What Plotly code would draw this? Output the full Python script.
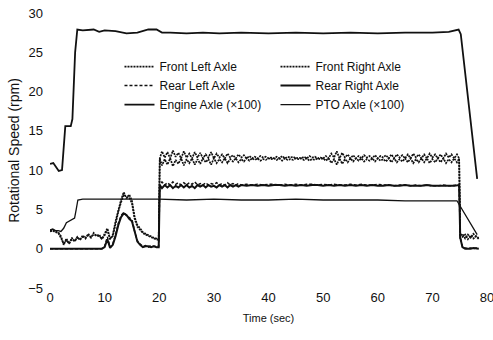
import plotly.graph_objects as go

# ---------------- data ----------------
# Engine axle (x100)
T_ENGINE = [0, 0.6, 1.2, 1.6, 2.2, 2.5, 2.8, 3.8, 4.1, 4.6, 5.0, 6, 8, 9, 10, 12, 14, 16, 18,
            19.5, 20.5, 22, 25, 28, 31, 35, 40, 45, 50, 55, 60, 65, 70, 73, 74.3, 74.8, 75.2, 78.2]
V_ENGINE = [10.8, 10.9, 10.3, 9.9, 10.0, 13.5, 15.6, 15.6, 16.5, 25.0, 27.9, 27.8, 27.9, 27.6, 27.8,
            27.7, 27.4, 27.5, 27.9, 27.9, 27.5, 27.5, 27.4, 27.5, 27.4, 27.5, 27.4, 27.5, 27.4, 27.5,
            27.4, 27.5, 27.5, 27.6, 27.8, 27.9, 27.3, 8.9]

# PTO axle (x100)
T_PTO = [0, 0.5, 1, 1.5, 2, 2.5, 3, 3.5, 4, 4.5, 4.8, 5.1, 6, 10, 15, 19.9, 25, 30, 35, 40, 45, 50,
         55, 60, 65, 70, 74.5, 78.2]
V_PTO = [2.4, 2.5, 2.3, 2.3, 2.2, 2.6, 3.3, 3.5, 3.7, 3.9, 5.0, 6.2, 6.3, 6.3, 6.3, 6.3, 6.2, 6.3,
         6.2, 6.2, 6.3, 6.2, 6.2, 6.2, 6.1, 6.1, 6.1, 1.8]

# front axles sampling times
T_FRONT = ([i / 2 for i in range(0, 40)] + [19.9, 20.1] + [20.5 + i / 2 for i in range(109)]
           + [74.9, 75.1] + [75.5 + i / 2 for i in range(7)])

V_FRONT_LEFT = (
    [2.3, 2.4, 2.2, 2.1, 1.6, 0.5, 1.3, 0.6, 1.4, 0.9, 1.5, 1.1, 1.7, 1.3, 1.9, 1.4, 2.0, 1.6, 1.8, 1.2,
     1.9, 2.6, 1.2, 1.8, 3.5, 5.0, 6.2, 7.2, 6.4, 6.9, 6.1, 4.0, 3.0, 2.6, 2.1, 1.9, 1.7, 1.6, 1.4, 1.3]
    + [1.2, 11.5]
    + [12.4, 11.6, 12.3, 11.5, 12.5, 11.7, 12.2, 11.5, 12.4, 11.6, 12.1, 11.5, 12.3, 11.6, 12.2, 11.5,
       12.0, 11.6, 12.3, 11.5]
    + [12.1, 11.6, 12.0, 11.5, 12.1, 11.6, 11.9, 11.5, 12.0, 11.6, 11.9, 11.5]
    + [11.8, 11.5, 11.7, 11.5, 11.8, 11.6, 11.7, 11.5, 11.6, 11.5, 11.7, 11.5, 11.8, 11.5, 11.7, 11.6,
       11.7, 11.5, 11.6, 11.5, 11.7, 11.5, 11.8, 11.6, 11.7, 11.5, 11.6, 11.5]
    + [11.8, 11.5, 12.1, 11.6, 12.4, 11.5, 12.2, 11.6, 12.0, 11.5, 11.9, 11.5]
    + [11.8, 11.5, 11.9, 11.6, 11.8, 11.5, 11.9, 11.5, 11.8, 11.6, 11.9, 11.5]
    + [12.0, 11.5, 12.0, 11.6, 11.9, 11.5, 12.0, 11.5, 12.1, 11.6, 12.0, 11.5, 12.0, 11.5, 12.1, 11.6,
       12.0, 11.5, 12.0, 11.5, 12.1, 11.6, 12.0, 11.5, 12.0]
    + [11.5, 1.6]
    + [1.9, 1.3, 1.8, 1.4, 1.9, 1.5, 1.4]
)

V_FRONT_RIGHT = (
    [2.2, 2.3, 2.1, 2.0, 1.4, 0.6, 1.1, 0.7, 1.2, 1.0, 1.4, 1.2, 1.5, 1.4, 1.7, 1.5, 1.8, 1.7, 1.6, 1.3,
     1.7, 2.4, 1.3, 1.6, 3.2, 4.7, 5.9, 6.9, 6.6, 6.5, 5.8, 3.8, 2.8, 2.4, 2.0, 1.8, 1.6, 1.5, 1.3, 1.2]
    + [1.1, 11.5]
    + [10.6, 11.4, 10.7, 11.5, 10.5, 11.3, 10.8, 11.5, 10.6, 11.4, 10.9, 11.5, 10.7, 11.4, 10.8, 11.5,
       11.0, 11.4, 10.7, 11.5]
    + [10.9, 11.4, 11.0, 11.5, 10.9, 11.4, 11.1, 11.5, 11.0, 11.4, 11.1, 11.5]
    + [11.2, 11.5, 11.3, 11.5, 11.2, 11.4, 11.3, 11.5, 11.4, 11.5, 11.3, 11.5, 11.2, 11.5, 11.3, 11.4,
       11.3, 11.5, 11.4, 11.5, 11.3, 11.5, 11.2, 11.4, 11.3, 11.5, 11.4, 11.5]
    + [11.2, 11.5, 10.9, 11.4, 10.7, 11.5, 10.8, 11.4, 11.0, 11.5, 11.1, 11.5]
    + [11.2, 11.5, 11.1, 11.4, 11.2, 11.5, 11.1, 11.5, 11.2, 11.4, 11.1, 11.5]
    + [11.0, 11.5, 11.0, 11.4, 11.1, 11.5, 11.0, 11.5, 10.9, 11.4, 11.0, 11.5, 11.0, 11.5, 10.9, 11.4,
       11.0, 11.5, 11.0, 11.5, 10.9, 11.4, 11.0, 11.5, 11.0]
    + [11.5, 1.4]
    + [1.5, 1.8, 1.2, 1.7, 1.3, 1.6, 1.2]
)

# rear axles sampling times
T_REAR = ([i / 2 for i in range(0, 40)] + [19.9, 20.1] + [20.5 + i / 2 for i in range(30)]
          + [36 + i for i in range(39)] + [74.9, 75.1] + [75.5 + i / 2 for i in range(7)])

V_REAR_LEFT = (
    [0.0] * 20
    + [0.3, 1.5, 0.2, 0.6, 1.8, 3.2, 4.2, 4.6, 4.2, 4.0, 3.7, 2.2, 1.0, 0.6, 0.3, 0.4, 0.2, 0.4, 0.3, 0.3]
    + [0.3, 8.1]
    + [8.5, 8.1, 8.4, 8.1, 8.5, 8.2, 8.4, 8.1, 8.4, 8.1, 8.4, 8.2, 8.5, 8.1, 8.3, 8.1, 8.4, 8.1, 8.3, 8.2,
       8.4, 8.1, 8.3, 8.1, 8.4, 8.1, 8.3, 8.1, 8.3, 8.1]
    + [8.2, 8.1, 8.2, 8.1, 8.2, 8.2, 8.1, 8.2, 8.1, 8.2, 8.1, 8.2, 8.2, 8.1, 8.2, 8.1, 8.2, 8.1, 8.1, 8.2,
       8.1, 8.2, 8.1, 8.1, 8.2, 8.1, 8.1, 8.0, 8.1, 8.1, 8.0, 8.1, 8.0, 8.1, 8.0, 8.0, 8.1, 8.0, 8.1]
    + [8.1, 1.5]
    + [0.3, 0.1, 0.0, 0.1, 0.0, 0.1, 0.0]
)

V_REAR_RIGHT = (
    [0.0] * 20
    + [0.2, 1.2, 0.1, 0.5, 1.6, 3.0, 4.0, 4.5, 4.3, 3.8, 3.5, 2.0, 0.9, 0.5, 0.2, 0.3, 0.3, 0.2, 0.3, 0.2]
    + [0.2, 8.1]
    + [7.7, 8.1, 7.8, 8.1, 7.7, 8.0, 7.8, 8.1, 7.8, 8.1, 7.8, 8.0, 7.7, 8.1, 7.9, 8.1, 7.8, 8.1, 7.9, 8.0,
       7.8, 8.1, 7.9, 8.1, 7.8, 8.1, 7.9, 8.1, 7.9, 8.1]
    + [8.0, 8.1, 8.0, 8.1, 8.0, 8.1, 8.1, 8.0, 8.1, 8.0, 8.1, 8.0, 8.1, 8.1, 8.0, 8.1, 8.0, 8.1, 8.0, 8.1,
       8.0, 8.1, 8.0, 8.1, 8.0, 8.0, 8.1, 8.0, 8.0, 8.1, 8.0, 8.0, 8.0, 8.1, 8.0, 8.0, 8.0, 8.0, 8.0]
    + [8.1, 1.4]
    + [0.2, 0.0, 0.0, 0.0, 0.1, 0.0, 0.0]
)

X_TICKS = [0, 10, 20, 30, 40, 50, 60, 70, 80]
Y_TICKS = [-5, 0, 5, 10, 15, 20, 25, 30]

assert len(T_FRONT) == len(V_FRONT_LEFT) == len(V_FRONT_RIGHT)
assert len(T_REAR) == len(V_REAR_LEFT) == len(V_REAR_RIGHT)
assert len(T_ENGINE) == len(V_ENGINE)
assert len(T_PTO) == len(V_PTO)

# ---------------- figure ----------------
INK = "#111111"
FONT = "Liberation Sans, Arial, sans-serif"

fig = go.Figure()
fig.add_trace(go.Scatter(x=T_REAR, y=V_REAR_LEFT, mode="lines", name="Rear Left Axle",
                         line=dict(color=INK, width=1.5, dash="3px,2px"), legend="legend", legendrank=2))
fig.add_trace(go.Scatter(x=T_REAR, y=V_REAR_RIGHT, mode="lines", name="Rear Right Axle",
                         line=dict(color=INK, width=2), legend="legend2", legendrank=2))
fig.add_trace(go.Scatter(x=T_FRONT, y=V_FRONT_LEFT, mode="lines", name="Front Left Axle",
                         line=dict(color=INK, width=1.7, dash="2px,1px"), legend="legend", legendrank=1))
fig.add_trace(go.Scatter(x=T_FRONT, y=V_FRONT_RIGHT, mode="lines", name="Front Right Axle",
                         line=dict(color=INK, width=1.7, dash="2px,1px"), legend="legend2", legendrank=1))
fig.add_trace(go.Scatter(x=T_PTO, y=V_PTO, mode="lines", name="PTO Axle (×100)",
                         line=dict(color=INK, width=1.3), legend="legend2", legendrank=3))
fig.add_trace(go.Scatter(x=T_ENGINE, y=V_ENGINE, mode="lines", name="Engine Axle (×100)",
                         line=dict(color=INK, width=1.8), legend="legend", legendrank=3))

legend_common = dict(font=dict(family=FONT, size=12, color=INK), bgcolor="rgba(0,0,0,0)",
                     itemwidth=30, tracegroupgap=0, yanchor="top", xanchor="left",
                     traceorder="normal", itemclick=False, itemdoubleclick=False)

fig.update_layout(
    width=493, height=340,
    margin=dict(l=50, r=6, t=13, b=52),
    paper_bgcolor="white", plot_bgcolor="white",
    font=dict(family=FONT, size=13, color=INK),
    showlegend=True,
    legend=dict(x=0.159, y=0.858, **legend_common),
    legend2=dict(x=0.516, y=0.858, **legend_common),
    xaxis=dict(range=[0, 80], tickvals=X_TICKS, showgrid=False, zeroline=False, showline=False,
               ticks="", tickfont=dict(size=13), ticklabeloverflow="allow", automargin=False,
               title=dict(text="Time (sec)", font=dict(size=11), standoff=10)),
    yaxis=dict(range=[-5, 30], tickvals=Y_TICKS, showgrid=False, zeroline=False, showline=False,
               ticks="", tickfont=dict(size=13), ticklabelstandoff=6, ticklabeloverflow="allow",
               automargin=False,
               title=dict(text="Rotational Speed (rpm)", font=dict(size=14), standoff=5)),
)

# remove the default page margin so the 493x340 figure fills the window exactly
fig.write_html("out.html", config={"displayModeBar": False},
               post_script="document.body.style.margin='0';document.body.style.overflow='hidden';")
